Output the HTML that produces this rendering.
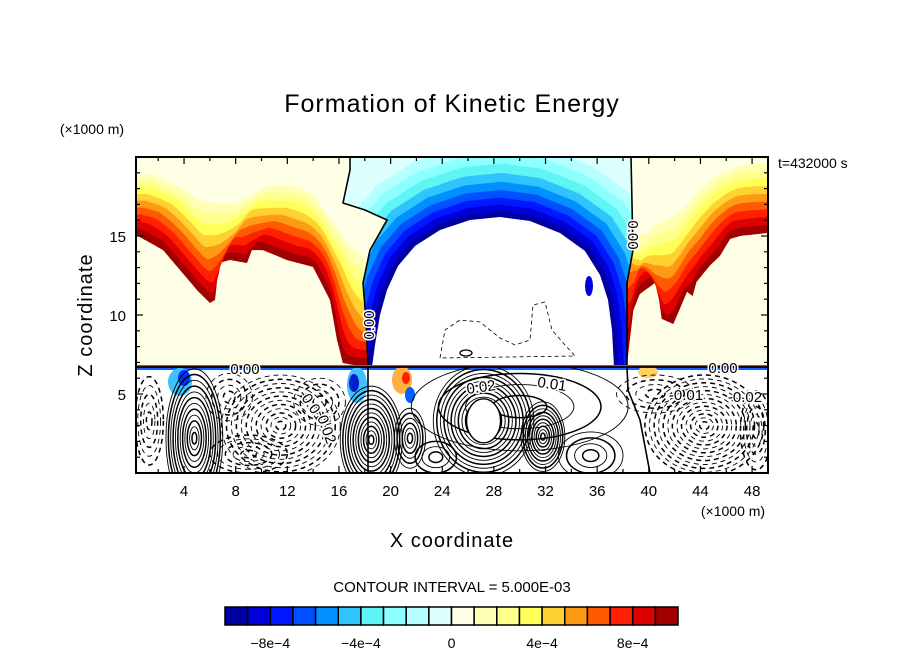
<!DOCTYPE html>
<html><head><meta charset="utf-8">
<style>
html,body{margin:0;padding:0;background:#fff;}
svg{display:block;font-family:"Liberation Sans","DejaVu Sans",sans-serif;}
</style></head>
<body>
<svg id="chart" width="904" height="654" viewBox="0 0 904 654" xmlns="http://www.w3.org/2000/svg">
<defs>
  <clipPath id="upperClip"><rect x="136" y="157" width="632" height="210"/></clipPath>
  <clipPath id="leftClip"><path d="M136,157 L350,157 L350,170 L343,203 L365,210 L387,220 L378,236 L370,250 L363,283 L366,320 L368,367 L136,367 Z"/></clipPath>
  <clipPath id="midClip"><path d="M350,157 L631,157 L633,250 L627,283 L627,367 L368,367 L366,320 L363,283 L370,250 L378,236 L387,220 L365,210 L343,203 L350,170 Z"/></clipPath>
  <clipPath id="rightClip"><path d="M631,157 L768,157 L768,367 L627,367 L627,283 L633,250 Z"/></clipPath>
  <clipPath id="lowerClip"><rect x="136" y="367" width="632" height="106"/></clipPath>
  <path id="dome" d="M372,367 L375,345 L380,315 L387,290 L398,266 L415,246 L440,230 L470,220 L500,217 L530,221 L560,233 L585,251 L600,275 L608,300 L612,330 L614,367 Z"/>
</defs>

<text x="452" y="112" font-size="25" text-anchor="middle" letter-spacing="1">Formation of Kinetic Energy</text>
<text x="92" y="134" font-size="14" text-anchor="middle">(×1000 m)</text>
<text x="778" y="168" font-size="14">t=432000 s</text>

<g id="field">
  <rect x="136" y="157" width="632" height="316" fill="#fff"/>
  <g clip-path="url(#upperClip)">
    <g clip-path="url(#leftClip)" id="leftG"><rect x="136" y="157" width="240" height="210" fill="#ffffe8"/></g>
    <g clip-path="url(#midClip)" id="midG"></g>
    <g clip-path="url(#rightClip)" id="rightG"><rect x="620" y="157" width="150" height="210" fill="#ffffe8"/></g>
  </g>
  <g id="lowerG" clip-path="url(#lowerClip)"></g>
</g>

<g id="axes"></g>

<text x="733" y="516" font-size="14" text-anchor="middle">(×1000 m)</text>
<text x="452" y="547" font-size="20" text-anchor="middle" letter-spacing="1">X coordinate</text>
<text transform="translate(92,315) rotate(-90)" font-size="20" text-anchor="middle" letter-spacing="1">Z coordinate</text>
<text x="452" y="592" font-size="15" text-anchor="middle">CONTOUR INTERVAL = 5.000E-03</text>
<g id="colorbar"></g>
</svg>
<script>
const levelColors=["#0000a0","#0000d8","#0018ff","#0050ff","#0090ff","#30c4ff","#5ff5f5","#8cffff","#b4ffff","#dcffff","#ffffe6","#ffffb4","#ffff8c","#ffff5a","#ffd232","#ff9a14","#ff5a00","#ff2000","#dc0000","#a00000"];
const colorbarTicks=["−8e−4","−4e−4","0","4e−4","8e−4"];
const colorbarTickValues=[-8e-4,-4e-4,0,4e-4,8e-4];
const xTicks=[4,8,12,16,20,24,28,32,36,40,44,48];
const zTicks=[5,10,15];
// plume lower boundaries (x in km, z in km), ascending x
const leftPlumeX=[0.3,2.37,5.0,6.0,6.4,6.7,7.56,8.88,9.26,10.1,11.97,13.99,15.3,15.85,16.3,17.6,18.2];
const leftPlumeZ=[15.06,14.11,11.58,10.76,10.95,13.29,13.48,13.29,14.11,14.11,13.48,13.04,10.95,8.42,6.96,6.77,6.7];
const rightPlumeX=[38.3,38.8,39.3,40.6,41.0,41.9,42.4,42.96,43.4,43.7,44.7,45.5,46.3,47.06,49.3];
const rightPlumeZ=[6.8,10.3,11.33,12.1,9.75,9.43,10.38,11.46,11.2,12.1,13.1,13.73,14.81,15.0,15.2];
const contourLabels=[
 {t:"0.00",x:245,y:374,r:0},{t:"0.00",x:369,y:330,r:-90},{t:"0.00",x:633,y:240,r:90},
 {t:"0.00",x:723,y:373,r:0},{t:"0.01",x:552,y:389,r:8},{t:"0.02",x:481,y:392,r:-8},
 {t:"-0.01",x:686,y:400,r:0},{t:"-0.02",x:745,y:402,r:0},{t:"-0.01",x:312,y:410,r:55},{t:"-0.02",x:326,y:432,r:70}];
const contourCx=[4.8,1.3,11.5,18.5,21.5,27.2,31.8,30,44.3,48.3,9,35.5,14.5,7.5,23.5,40.5];
const contourCz=[2.2,3.3,3.0,2.1,2.2,3.3,2.3,4.2,3.0,2.7,1.2,1.1,4.5,4.8,1.0,5.0];
const contourRx=[2.2,1.1,4.6,2.4,1.2,3.9,1.7,8.4,4.6,1.2,3,2.5,2.0,1.8,1.6,3];
const contourRz=[4.4,2.8,3.2,3.4,1.9,3.5,2.2,2.8,3.2,2.5,1.2,1.5,1.5,1.5,1.0,1.2];
const contourN=[12,5,12,12,6,14,10,4,13,5,5,4,4,4,3,4];
const contourDash=[0,1,1,0,0,0,0,0,1,1,1,0,1,1,0,1];

const NS="http://www.w3.org/2000/svg";
const X0=136,X1=768,Y0=157,Y1=473;
function xs(v){return 132.4+v*12.91;}
function zs(v){return 473-v*15.8;}
function mk(tag,attrs,parent){const e=document.createElementNS(NS,tag);for(const k in attrs)e.setAttribute(k,attrs[k]);parent.appendChild(e);return e;}

function sampleBoundary(px,pz,step){
  const X=px.map(xs),Y=pz.map(zs),pts=[];
  for(let i=0;i<X.length-1;i++){
    const n=Math.max(1,Math.round(Math.abs(X[i+1]-X[i])/step));
    for(let j=0;j<n;j++){const t=j/n;pts.push([X[i]+(X[i+1]-X[i])*t,Y[i]+(Y[i+1]-Y[i])*t]);}
  }
  pts.push([X[X.length-1],Y[Y.length-1]]);
  return pts;
}
function smooth(pts,w){
  if(w<1)return pts.map(p=>p.slice());
  return pts.map((p,i)=>{let s=0,c=0;for(let j=Math.max(0,i-w);j<=Math.min(pts.length-1,i+w);j++){s+=pts[j][1];c++;}return [p[0],s/c];});
}
function plumeLayers(g,px,pz,dir,name){
  const base=sampleBoundary(px,pz,2);
  for(let i=19,k=0;i>=10;i--,k++){
    const sm=smooth(base,k*2);
    const off=k*8;
    const pts=sm.map((p,idx)=>[p[0]+dir*k*1.8,Math.min(p[1]-off,base[idx][1])]);
    const first=pts[0],last=pts[pts.length-1];
    let d=`M${first[0]-80},100 L${first[0]-80},${first[1]} `;
    pts.forEach(p=>{d+=`L${p[0].toFixed(1)},${p[1].toFixed(1)} `;});
    d+=`L${last[0]+80},${last[1]} L${last[0]+80},100 Z`;
    const e=mk('path',{d:d,fill:levelColors[i]},g);
    
    
  }
}
const leftG=document.getElementById('leftG'),rightG=document.getElementById('rightG'),midG=document.getElementById('midG');
plumeLayers(leftG,leftPlumeX,leftPlumeZ,1,'left-plume-band');
plumeLayers(rightG,rightPlumeX,rightPlumeZ,-1,'right-plume-band');

mk('rect',{x:340,y:157,width:300,height:210,fill:levelColors[9]},midG);
for(let i=8;i>=0;i--){
  const s=1+(i+1)*0.037+(i+1)*(i+1)*0.002;
  const u=mk('use',{href:'#dome',fill:levelColors[i],transform:`translate(494,367) scale(${s},${s}) translate(-494,-367)`},midG);
  
  
}
mk('use',{href:'#dome',fill:'#fff'},midG);
mk('ellipse',{cx:589,cy:286,rx:4,ry:10,fill:levelColors[1]},midG);
const d1=mk('path',{d:"M440,358 L445,330 L460,320 L480,322 L500,338 L515,345 L530,340 L533,305 L545,302 L552,330 L565,345 L575,356 L440,358",fill:"none",stroke:"#000","stroke-width":0.8,"stroke-dasharray":"4,3"},midG);


mk('ellipse',{cx:466,cy:353,rx:6,ry:3,fill:'none',stroke:'#000','stroke-width':1.3},midG);

const axesG=document.getElementById('axes');
const fieldG=document.getElementById('field');
mk('path',{d:"M350,157 L350,170 L343,203 L365,210 L387,220 L378,236 L370,250 L363,283 L366,320 L368,367 L368,473",fill:'none',stroke:'#000','stroke-width':1.6},fieldG);
mk('path',{d:"M631,157 L633,250 L627,283 L627,367 L628,390 L640,420 L650,473",fill:'none',stroke:'#000','stroke-width':1.6},fieldG);

const lowerG=document.getElementById('lowerG');
mk('rect',{x:136,y:367,width:632,height:3,fill:'#1060ff'},lowerG);
mk('rect',{x:136,y:365,width:632,height:2,fill:'#ff3000'},fieldG);
const blobs=[[180,382,12,14,'#40c0ff'],[184,378,6,8,'#0030ff'],[357,385,10,18,'#40c0ff'],[354,383,5,9,'#0020d0'],[402,380,10,14,'#ffb040'],[406,378,4,6,'#ff2000'],[410,395,5,8,'#0060ff'],[648,372,10,6,'#ffd060']];
blobs.forEach(b=>{const e=mk('ellipse',{cx:b[0],cy:b[1],rx:b[2],ry:b[3],fill:b[4]},lowerG);});
for(let g=0;g<contourCx.length;g++){
  const n=contourN[g];
  for(let j=1;j<=n;j++){
    const f=j/n;
    const e=mk('ellipse',{cx:xs(contourCx[g]),cy:zs(contourCz[g]),rx:(contourRx[g]*12.91*f).toFixed(1),ry:(contourRz[g]*15.8*f).toFixed(1),fill:'none',stroke:'#000','stroke-width':(j%2?1.5:0.9)},lowerG);
    if(contourDash[g])e.setAttribute('stroke-dasharray','5,4');
    
    
  }
}
mk('ellipse',{cx:xs(27.2),cy:zs(3.3),rx:17,ry:22,fill:'#fff',stroke:'#000','stroke-width':1.4},lowerG);
mk('line',{x1:136,y1:367,x2:768,y2:367,stroke:'#000','stroke-width':1.8},fieldG);

contourLabels.forEach(l=>{
  const bg=mk('text',{x:l.x,y:l.y,'font-size':15,'text-anchor':'middle',transform:`rotate(${l.r},${l.x},${l.y-5})`,fill:'#000',stroke:'#fff','stroke-width':3,'paint-order':'stroke'},fieldG);
  bg.textContent=l.t;
  
  
});

mk('rect',{x:X0,y:Y0,width:X1-X0,height:Y1-Y0,fill:'none',stroke:'#000','stroke-width':2},axesG);
for(let v=2;v<=49;v+=2){
  const x=xs(v),L=(v%4===0)?7:4;
  mk('line',{x1:x,y1:Y1,x2:x,y2:Y1-L,stroke:'#000','stroke-width':1.2},axesG);
  mk('line',{x1:x,y1:Y0,x2:x,y2:Y0+L,stroke:'#000','stroke-width':1.2},axesG);
}
for(let v=1;v<20;v++){
  const y=zs(v),L=(v%5===0)?7:4;
  mk('line',{x1:X0,y1:y,x2:X0+L,y2:y,stroke:'#000','stroke-width':1.2},axesG);
  mk('line',{x1:X1,y1:y,x2:X1-L,y2:y,stroke:'#000','stroke-width':1.2},axesG);
}
xTicks.forEach(v=>{const t=mk('text',{x:xs(v),y:496,'font-size':15,'text-anchor':'middle'},axesG);t.textContent=v;});
zTicks.forEach(v=>{const t=mk('text',{x:126,y:zs(v)+6,'font-size':15,'text-anchor':'end'},axesG);t.textContent=v;});

const cb=document.getElementById('colorbar');
const CB0=225,CB1=678,CBW=(CB1-CB0)/levelColors.length;
levelColors.forEach((c,i)=>{
  const r=mk('rect',{x:CB0+i*CBW,y:607,width:CBW,height:18,fill:c,stroke:'#000','stroke-width':1.5},cb);
  
  
});
function cbx(v){return CB0+(v+1e-3)/2e-3*(CB1-CB0);}
colorbarTicks.forEach((s,i)=>{
  const t=mk('text',{x:cbx(colorbarTickValues[i]),y:648,'font-size':14,'text-anchor':'middle'},cb);
  t.textContent=s;
  
  
});
</script>
</body></html>
